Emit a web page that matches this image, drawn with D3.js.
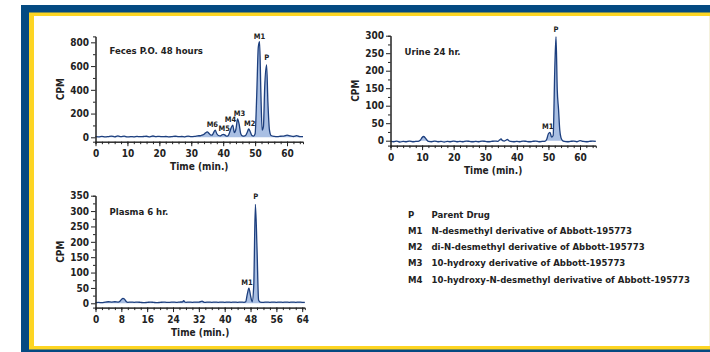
<!DOCTYPE html>
<html>
<head>
<meta charset="utf-8">
<script src="https://cdn.jsdelivr.net/npm/d3@7"></script>
<style>
  body { margin: 0; background: #fff; }
  svg { display: block; }
  text { font-family: "Liberation Sans Narrow", "Arial Narrow", "DejaVu Sans Condensed", sans-serif; font-weight: bold; fill: #222; }
  .axis path, .axis line { stroke: #222; stroke-width: 1; }
  .axis text { font-family: "Liberation Sans Narrow", "Arial Narrow", "DejaVu Sans Condensed", sans-serif; font-weight: bold; font-size: 10px; fill: #222; }
</style>
</head>
<body>
<script>
// Feces P.O. 48 hours
const fecesTime = [0, 1, 2, 3, 4, 5, 6, 7, 8, 9, 10, 11, 12, 13, 14, 15, 16, 17, 18, 19, 20, 21, 22, 23, 24, 25, 26, 27, 28, 29, 30, 31, 32, 33, 34, 34.5, 35, 35.5, 36, 36.5, 37, 37.5, 38, 38.5, 39, 39.5, 40, 40.5, 41, 41.5, 42, 42.5, 43, 43.5, 44, 44.5, 45, 45.5, 46, 46.5, 47, 47.5, 48, 48.5, 49, 49.5, 50, 50.5, 51, 51.4, 51.8, 52.2, 52.6, 53, 53.6, 54, 54.5, 55, 56, 57, 58, 59, 60, 61, 62, 63, 64, 65];
const fecesCpm = [5, 4, 8, 3, 6, 10, 4, 12, 5, 10, 3, 6, 4, 8, 5, 7, 9, 4, 11, 6, 8, 5, 7, 4, 6, 9, 5, 7, 4, 10, 6, 8, 12, 15, 25, 38, 45, 35, 20, 18, 40, 60, 30, 15, 12, 18, 25, 20, 10, 12, 40, 80, 103, 40, 70, 155, 110, 30, 12, 10, 15, 40, 70, 45, 15, 10, 30, 350, 760, 805, 380, 60, 90, 420, 609, 300, 60, 15, 8, 6, 9, 10, 18, 12, 7, 14, 5, 6];
const fecesPeaks = ['M1', 'P', 'M3', 'M4', 'M2', 'M6', 'M5'];
const fecesPeakTime = [51.4, 53.6, 45.1, 42.3, 48.3, 36.6, 40.3];
const fecesPeakCpm = [805, 609, 155, 103, 70, 60, 25];
const fecesYTicks = [0, 200, 400, 600, 800];
const fecesXTicks = [0, 10, 20, 30, 40, 50, 60];

// Urine 24 hr.
const urineTime = [0, 1, 2, 3, 4, 5, 6, 7, 8, 9, 9.5, 10, 10.5, 11, 11.5, 12, 13, 14, 15, 16, 17, 18, 19, 20, 21, 22, 23, 24, 25, 26, 27, 28, 29, 30, 31, 32, 33, 34, 34.5, 35, 35.5, 36, 36.5, 37, 37.5, 38, 39, 40, 41, 42, 43, 44, 45, 46, 47, 48, 49, 49.5, 50, 50.5, 51, 51.5, 52, 52.4, 52.8, 53.2, 53.6, 54, 54.5, 55, 56, 57, 58, 59, 60, 61, 62, 63, 64, 65];
const urineCpm = [-2, -3, -1, -4, -2, -3, -1, -3, -2, -1, 2, 9, 12, 8, 2, -2, -3, -1, -3, -2, -4, -2, -3, -1, -3, -2, -3, -1, -2, -3, -2, -3, -1, -2, -3, -2, -1, -2, 2, 5, 0, -1, 1, 4, 0, -2, -3, -2, -3, -1, -2, -3, -2, -1, -3, -2, -1, 5, 20, 24, 10, 15, 200, 297, 145, 90, 30, 8, 0, -2, -3, -2, -1, -3, 0, -2, -3, -2, -1, -2];
const urinePeaks = ['P', 'M1'];
const urinePeakTime = [52.4, 49.8];
const urinePeakCpm = [297, 24];
const urineYTicks = [0, 50, 100, 150, 200, 250, 300];
const urineXTicks = [0, 10, 20, 30, 40, 50, 60];

// Plasma 6 hr.
const plasmaTime = [0, 1, 2, 3, 4, 5, 6, 7, 7.5, 8, 8.5, 9, 9.5, 10, 11, 12, 13, 14, 15, 16, 17, 18, 19, 20, 21, 22, 23, 24, 25, 26, 27, 27.3, 27.7, 28, 29, 30, 31, 32, 33, 33.5, 34, 35, 36, 37, 38, 39, 40, 41, 42, 43, 44, 45, 46, 46.5, 47, 47.5, 48, 48.5, 49, 49.5, 50, 50.5, 51, 52, 53, 54, 55, 56, 57, 58, 59, 60, 61, 62, 63, 64, 64.8];
const plasmaCpm = [2, 3, 2, 4, 5, 4, 5, 4, 6, 12, 16, 13, 6, 3, 4, 3, 4, 3, 2, 3, 4, 3, 2, 3, 4, 3, 3, 4, 3, 4, 5, 9, 4, 3, 4, 3, 4, 4, 7, 4, 3, 4, 3, 4, 3, 4, 3, 4, 3, 4, 3, 4, 3, 5, 30, 49, 25, 5, 60, 322, 180, 10, 4, 3, 4, 3, 4, 3, 4, 3, 4, 3, 4, 3, 4, 3, 3];
const plasmaPeaks = ['P', 'M1'];
const plasmaPeakTime = [49.6, 46.9];
const plasmaPeakCpm = [322, 49];
const plasmaYTicks = [0, 50, 100, 150, 200, 250, 300, 350];
const plasmaXTicks = [0, 8, 16, 24, 32, 40, 48, 56, 64];

// legend
const legendKeys = ['P', 'M1', 'M2', 'M3', 'M4'];
const legendNames = [
  'Parent Drug',
  'N-desmethyl derivative of Abbott-195773',
  'di-N-desmethyl derivative of Abbott-195773',
  '10-hydroxy derivative of Abbott-195773',
  '10-hydroxy-N-desmethyl derivative of Abbott-195773'
];

const W = 710, H = 352;
const svg = d3.select('body').append('svg').attr('width', W).attr('height', H);

// frame: blue band, yellow band, white panel
svg.append('rect').attr('x', 21).attr('y', 5).attr('width', 700).attr('height', 360).attr('fill', '#044a82');
svg.append('rect').attr('x', 29).attr('y', 12.5).attr('width', 700).attr('height', 337).attr('fill', '#fdd523');
svg.append('rect').attr('x', 34).attr('y', 16).attr('width', 700).attr('height', 330).attr('fill', '#fff');
svg.append('line').attr('x1', 709.5).attr('x2', 709.5).attr('y1', 16).attr('y2', 346).attr('stroke', '#f4f1dc');

function chromatogram (opt) {
  const x = d3.scaleLinear().domain(opt.xDomain).range(opt.xRange);
  const y = d3.scaleLinear().domain(opt.yDomain).range(opt.yRange);
  const g = svg.append('g');
  const pts = opt.time.map((t, i) => ({ t: t, v: opt.cpm[i] }));

  // light fill under the trace
  g.append('path')
    .datum(pts)
    .attr('fill', '#a9bfe3')
    .attr('d', d3.area().x((d) => x(d.t)).y0(y(0)).y1((d) => y(d.v)).curve(d3.curveMonotoneX));

  g.append('path')
    .datum(pts)
    .attr('fill', 'none')
    .attr('stroke', '#1d3f7e')
    .attr('stroke-width', 1.3)
    .attr('d', d3.line().x((d) => x(d.t)).y((d) => y(d.v)).curve(d3.curveMonotoneX));

  // minor ticks
  g.append('g').attr('class', 'axis')
    .attr('transform', 'translate(0,' + opt.yRange[0] + ')')
    .call(d3.axisBottom(x).tickValues(d3.range(opt.xDomain[0], opt.xDomain[1], 2)).tickSize(2.5).tickFormat(''));
  g.append('g').attr('class', 'axis')
    .attr('transform', 'translate(' + opt.xRange[0] + ',0)')
    .call(d3.axisLeft(y).tickValues(opt.yTicks.slice(1).map((d, i) => (d + opt.yTicks[i]) / 2)).tickSize(2.5).tickFormat(''));

  g.append('g').attr('class', 'axis')
    .attr('transform', 'translate(0,' + opt.yRange[0] + ')')
    .call(d3.axisBottom(x).tickValues(opt.xTicks).tickSize(4.5).tickSizeOuter(0).tickPadding(4));
  g.append('g').attr('class', 'axis')
    .attr('transform', 'translate(' + opt.xRange[0] + ',0)')
    .call(d3.axisLeft(y).tickValues(opt.yTicks).tickSize(4.5).tickSizeOuter(0).tickPadding(2));

  // peak labels
  opt.peaks.forEach((name, i) => {
    g.append('text')
      .attr('x', x(opt.peakTime[i]))
      .attr('y', y(opt.peakCpm[i]) - (name === 'P' ? 5 : 3))
      .attr('text-anchor', 'middle')
      .style('font-size', '7.5px')
      .text(name);
  });

  g.append('text')
    .attr('x', opt.xRange[0] + 14)
    .attr('y', opt.titleY)
    .style('font-size', '9.5px')
    .text(opt.title);

  g.append('text')
    .attr('x', (opt.xRange[0] + opt.xRange[1]) / 2)
    .attr('y', opt.yRange[0] + 28)
    .attr('text-anchor', 'middle')
    .style('font-size', '10px')
    .text('Time (min.)');

  g.append('text')
    .attr('transform', 'translate(' + (opt.xRange[0] - 32) + ',' + ((opt.yRange[0] + opt.yRange[1]) / 2) + ') rotate(-90)')
    .attr('text-anchor', 'middle')
    .style('font-size', '10px')
    .text('CPM');
}

chromatogram({
  title: 'Feces P.O. 48 hours', titleY: 54,
  time: fecesTime, cpm: fecesCpm,
  peaks: fecesPeaks, peakTime: fecesPeakTime, peakCpm: fecesPeakCpm,
  xDomain: [0, 65], xRange: [95.5, 303],
  yDomain: [-37, 850], yRange: [141.7, 36.4],
  xTicks: fecesXTicks, yTicks: fecesYTicks
});

chromatogram({
  title: 'Urine 24 hr.', titleY: 55,
  time: urineTime, cpm: urineCpm,
  peaks: urinePeaks, peakTime: urinePeakTime, peakCpm: urinePeakCpm,
  xDomain: [0, 65], xRange: [390.5, 595.8],
  yDomain: [-14, 300], yRange: [145.6, 35.7],
  xTicks: urineXTicks, yTicks: urineYTicks
});

chromatogram({
  title: 'Plasma 6 hr.', titleY: 215,
  time: plasmaTime, cpm: plasmaCpm,
  peaks: plasmaPeaks, peakTime: plasmaPeakTime, peakCpm: plasmaPeakCpm,
  xDomain: [0, 64.8], xRange: [95.5, 304.8],
  yDomain: [-14, 350], yRange: [307.6, 195.7],
  xTicks: plasmaXTicks, yTicks: plasmaYTicks
});

// legend
const legend = svg.append('g').attr('transform', 'translate(408,217.5)');
legendKeys.forEach((k, i) => {
  legend.append('text').attr('x', 0).attr('y', i * 16.3).style('font-size', '9.5px').text(k);
  legend.append('text').attr('x', 23.5).attr('y', i * 16.3).style('font-size', '9.5px').text(legendNames[i]);
});
</script>
</body>
</html>
